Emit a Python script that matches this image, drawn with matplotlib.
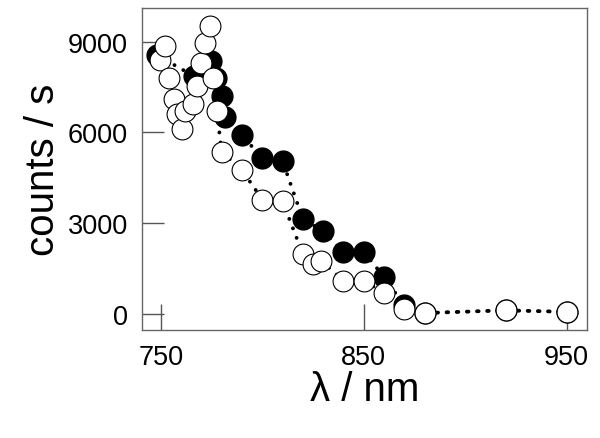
import matplotlib
matplotlib.use("Agg")
import matplotlib.pyplot as plt

plt.rcParams['font.family'] = ['Liberation Sans', 'DejaVu Sans']

# filled circles
wl_filled = [748, 766.5, 774.5, 777, 780, 781.5, 790, 800, 810,
             820, 830, 840, 850, 860, 870, 880, 920, 950]
cnt_filled = [8550, 7850, 8350, 7800, 7200, 6500, 5900, 5150, 5050,
              3130, 2740, 2040, 2060, 1220, 280, 30, 120, 70]

# open circles
wl_open = [749.5, 752, 754, 756.4, 758, 760.3, 762, 765.8, 767.7, 770, 771.7, 774,
           775.6, 777.6, 780, 790, 800, 810, 820, 825, 829, 840, 850, 860, 870,
           880, 920, 950]
cnt_open = [8400, 8850, 7780, 7090, 6600, 6100, 6700, 6930, 7520, 8300, 8950, 9500,
            7780, 6700, 5350, 4750, 3780, 3720, 1980, 1650, 1750, 1100, 1100, 700, 160,
            30, 120, 70]

xticks = [750, 850, 950]
yticks = [0, 3000, 6000, 9000]

fig = plt.figure(figsize=(6, 4.39), dpi=100)
ax = fig.add_axes([0.236, 0.246, 0.742, 0.733])

dot = dict(color='black', linewidth=2.8, dashes=(0.01, 2.6),
           dash_capstyle='round', zorder=2)
ax.plot(wl_filled, cnt_filled, **dot)
ax.plot(wl_open, cnt_open, **dot)
ax.plot(wl_filled, cnt_filled, 'o', ms=15, mfc='black', mec='black', mew=1, zorder=3)
ax.plot(wl_open, cnt_open, 'o', ms=15, mfc='white', mec='black', mew=0.8, zorder=4)

ax.set_xlim(740.5, 960)
ax.set_ylim(-530, 10100)
ax.set_xticks(xticks)
ax.set_yticks(yticks)
ax.tick_params(direction='in', color='#555555', width=1, labelsize=19.5)
ax.tick_params(axis='x', length=19, pad=10)
ax.tick_params(axis='y', length=16, pad=10)
for s in ax.spines.values():
    s.set_color('#666666')
    s.set_linewidth(1)

ax.set_xlabel('λ / nm', fontsize=29, labelpad=0)
ax.set_ylabel('counts / s', fontsize=29, labelpad=4)

fig.savefig('out.png', dpi=100)
